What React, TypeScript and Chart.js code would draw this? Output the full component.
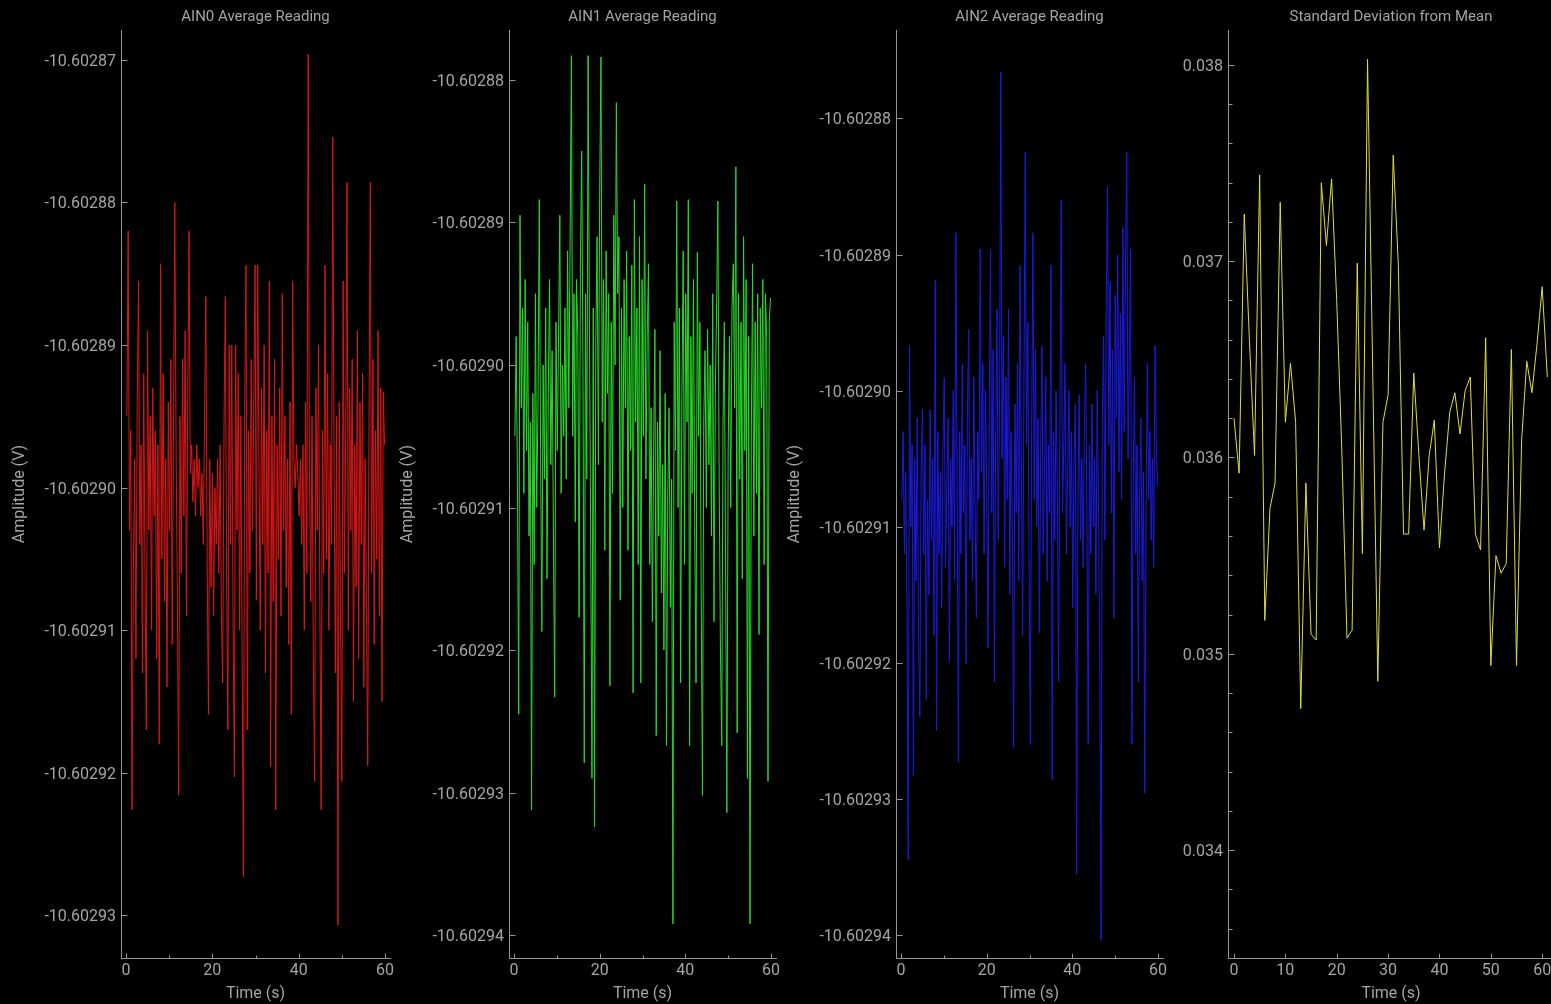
import React, { useEffect, useRef } from "react";
import { Chart, registerables } from "chart.js";

Chart.register(...registerables);

// ---------------- data ----------------
// AIN0/AIN1/AIN2 sampled every 0.3 s starting at 0.2 s
const SAMPLE_T0 = 0.2;
const SAMPLE_DT = 0.3;

const AIN0_VALUES = [
  -10.602895, -10.602882, -10.602903, -10.602896, -10.6029226, -10.602906, -10.602898, -10.602912, -10.602894, -10.6028855,
  -10.602904, -10.602897, -10.602913, -10.602892, -10.602906, -10.602917, -10.602889, -10.602903, -10.602895, -10.60291,
  -10.602893, -10.602902, -10.602896, -10.602912, -10.602897, -10.602918, -10.6028843, -10.602905, -10.602892, -10.602908,
  -10.602898, -10.602914, -10.602894, -10.602903, -10.602891, -10.602911, -10.602896, -10.60288, -10.602897, -10.602908,
  -10.6029216, -10.602895, -10.602906, -10.602891, -10.602902, -10.602889, -10.602909, -10.602894, -10.602882, -10.602899,
  -10.602897, -10.602901, -10.602898, -10.602902, -10.602897, -10.6029, -10.602898, -10.602902, -10.602899, -10.602904,
  -10.602895, -10.6028866, -10.602905, -10.6029159, -10.602898, -10.602907, -10.602899, -10.602909, -10.6029, -10.602904,
  -10.602898, -10.602906, -10.602897, -10.602909, -10.6029137, -10.602896, -10.6028866, -10.602906, -10.602917, -10.60289,
  -10.602904, -10.60289, -10.602909, -10.6029203, -10.60289, -10.602903, -10.602892, -10.60291, -10.602895, -10.602912,
  -10.6029273, -10.602894, -10.6028844, -10.602917, -10.602896, -10.602906, -10.602891, -10.602903, -10.602894, -10.6028844,
  -10.6029079, -10.6028844, -10.602898, -10.60291, -10.602893, -10.602904, -10.60289, -10.602913, -10.602896, -10.602906,
  -10.6028855, -10.6029196, -10.602895, -10.602908, -10.602891, -10.6029226, -10.602897, -10.602905, -10.602893, -10.602909,
  -10.6028864, -10.602903, -10.602895, -10.602907, -10.602898, -10.602911, -10.602894, -10.6029159, -10.6028855, -10.602898,
  -10.6029, -10.602897, -10.602899, -10.602902, -10.602898, -10.602904, -10.602897, -10.60291, -10.602894, -10.602906,
  -10.6028696, -10.602899, -10.602908, -10.602895, -10.602912, -10.6029206, -10.602893, -10.602903, -10.60289, -10.602908,
  -10.6029226, -10.602896, -10.602906, -10.6028844, -10.602905, -10.602892, -10.60291, -10.602897, -10.602904, -10.6028754,
  -10.602898, -10.602913, -10.602895, -10.6029307, -10.602894, -10.602909, -10.6029206, -10.6028855, -10.602906, -10.602896,
  -10.6028786, -10.60291, -10.602893, -10.602903, -10.602891, -10.602915, -10.602897, -10.602907, -10.602889, -10.602912,
  -10.602894, -10.602904, -10.602892, -10.602914, -10.602898, -10.602908, -10.6029195, -10.602895, -10.6028786, -10.602906,
  -10.602891, -10.602911, -10.602896, -10.602905, -10.602889, -10.602909, -10.602893, -10.602915, -10.6028933, -10.602897,
];

const AIN1_VALUES = [
  -10.602905, -10.602898, -10.602908, -10.6029245, -10.6028895, -10.602903, -10.602896, -10.602909, -10.602894, -10.602906,
  -10.602897, -10.602912, -10.602904, -10.6029312, -10.602902, -10.602914, -10.602895, -10.60291, -10.602903, -10.6028884,
  -10.602906, -10.6029187, -10.6029, -10.602908, -10.602896, -10.602915, -10.602902, -10.602894, -10.602907, -10.602899,
  -10.602912, -10.6029233, -10.602897, -10.602906, -10.602898, -10.6028895, -10.602909, -10.6029, -10.602905, -10.602896,
  -10.602908, -10.602892, -10.602903, -10.602891, -10.6028783, -10.602905, -10.602895, -10.602911, -10.602894, -10.602898,
  -10.6029177, -10.602893, -10.602885, -10.6029, -10.6029279, -10.602895, -10.602908, -10.6028783, -10.602897, -10.602912,
  -10.602929, -10.602896, -10.6029324, -10.602898, -10.602891, -10.602907, -10.602888, -10.6028784, -10.602904, -10.602894,
  -10.602913, -10.602892, -10.602902, -10.602895, -10.6029225, -10.602897, -10.602909, -10.6028895, -10.6029, -10.6028816,
  -10.602895, -10.602891, -10.6029165, -10.602896, -10.60291, -10.602894, -10.602903, -10.602892, -10.602913, -10.602898,
  -10.602906, -10.602893, -10.602923, -10.6028884, -10.602904, -10.602896, -10.602914, -10.602891, -10.6029223, -10.602894,
  -10.602905, -10.6028873, -10.602908, -10.602898, -10.6028929, -10.602914, -10.602903, -10.602918, -10.602906, -10.6028975,
  -10.602926, -10.602904, -10.602912, -10.602899, -10.602916, -10.602907, -10.60292, -10.602902, -10.6029267, -10.602909,
  -10.602903, -10.602917, -10.602908, -10.6029392, -10.602897, -10.602906, -10.6028885, -10.60291, -10.602896, -10.6029223,
  -10.602902, -10.602892, -10.602914, -10.602895, -10.602904, -10.6028884, -10.6029267, -10.602898, -10.602909, -10.602894,
  -10.602912, -10.6029223, -10.6028921, -10.602905, -10.602897, -10.602916, -10.6029302, -10.602904, -10.602899, -10.60291,
  -10.6028975, -10.602907, -10.6029, -10.602912, -10.602895, -10.602918, -10.602902, -10.602896, -10.6028885, -10.602908,
  -10.60292, -10.6029267, -10.602904, -10.602897, -10.602914, -10.6029314, -10.602906, -10.602898, -10.60291, -10.602896,
  -10.6028929, -10.602903, -10.6028861, -10.6029258, -10.602895, -10.602908, -10.602897, -10.602915, -10.602891, -10.602906,
  -10.602894, -10.602929, -10.602898, -10.6029392, -10.602905, -10.6028929, -10.602912, -10.602897, -10.602909, -10.602895,
  -10.6029189, -10.602896, -10.602903, -10.602894, -10.602914, -10.602895, -10.602898, -10.6029292, -10.602897, -10.6028953,
];

const AIN2_VALUES = [
  -10.602908, -10.602903, -10.602912, -10.602906, -10.602916, -10.6029345, -10.6028967, -10.60291, -10.602904, -10.6029283,
  -10.602905, -10.602914, -10.602902, -10.602918, -10.602924, -10.602906, -10.6029014, -10.602912, -10.602904, -10.6029227,
  -10.602908, -10.602915, -10.6029014, -10.602911, -10.602905, -10.602918, -10.6028919, -10.602925, -10.602903, -10.602912,
  -10.602906, -10.602916, -10.602904, -10.602899, -10.602913, -10.602907, -10.602902, -10.60292, -10.602905, -10.60291,
  -10.6029, -10.602914, -10.6028884, -10.602906, -10.6029273, -10.602903, -10.602912, -10.602898, -10.602909, -10.602904,
  -10.6029201, -10.602902, -10.6028955, -10.602911, -10.602905, -10.602914, -10.602899, -10.602909, -10.6029167, -10.602903,
  -10.602908, -10.6028896, -10.602906, -10.602898, -10.602912, -10.6029, -10.602907, -10.6029189, -10.602902, -10.6028896,
  -10.602909, -10.602897, -10.6029214, -10.602904, -10.602894, -10.602911, -10.602902, -10.6028766, -10.602905, -10.602896,
  -10.602913, -10.602899, -10.602908, -10.602894, -10.602915, -10.602903, -10.60291, -10.6029262, -10.602901, -10.602909,
  -10.602898, -10.602914, -10.6028908, -10.602906, -10.602918, -10.6029, -10.6028825, -10.602904, -10.602895, -10.602912,
  -10.602926, -10.602903, -10.6028884, -10.602908, -10.602897, -10.60291, -10.602902, -10.6029178, -10.602905, -10.6028967,
  -10.602912, -10.602906, -10.602899, -10.602914, -10.602904, -10.602909, -10.6028908, -10.6029286, -10.602903, -10.602911,
  -10.6029, -10.602907, -10.6029214, -10.602902, -10.602886, -10.602909, -10.602904, -10.602898, -10.602912, -10.602906,
  -10.6029, -10.60291, -10.602903, -10.602916, -10.602905, -10.602901, -10.6029355, -10.602908, -10.6029003, -10.602911,
  -10.602905, -10.602913, -10.602903, -10.602898, -10.602909, -10.602926, -10.602904, -10.602912, -10.602901, -10.60291,
  -10.602905, -10.602915, -10.6029, -10.602908, -10.60292, -10.6029404, -10.602902, -10.602896, -10.602911, -10.602894,
  -10.602885, -10.602904, -10.602892, -10.602909, -10.602897, -10.6029167, -10.602893, -10.602902, -10.60289, -10.602906,
  -10.6028943, -10.602908, -10.602888, -10.602903, -10.602891, -10.6028825, -10.602905, -10.602898, -10.6028896, -10.602926,
  -10.602907, -10.602899, -10.602912, -10.602904, -10.6029214, -10.602908, -10.602902, -10.602914, -10.602906, -10.6029296,
  -10.602909, -10.602898, -10.602908, -10.602903, -10.602911, -10.602905, -10.602913, -10.6028967, -10.602904, -10.602907,
];

// standard deviation, one value per second starting at 0 s
const STD_VALUES = [
  0.0362, 0.03592, 0.03724, 0.0366, 0.03601, 0.03744, 0.03517, 0.03574, 0.03587, 0.0373,
  0.03618, 0.03648, 0.03618, 0.03472, 0.03587, 0.0351, 0.03507, 0.0374, 0.03708, 0.03742,
  0.0368, 0.03603, 0.03508, 0.03512, 0.03699, 0.03551, 0.03803, 0.03645, 0.03486, 0.03618,
  0.03632, 0.03754, 0.03698, 0.03561, 0.03561, 0.03643, 0.03601, 0.03563, 0.03601, 0.03619,
  0.03554, 0.03592, 0.03623, 0.03633, 0.03612, 0.03634, 0.03641, 0.03561, 0.03553, 0.03661,
  0.03494, 0.0355, 0.03541, 0.03546, 0.03655, 0.03494, 0.03609, 0.03649, 0.03633, 0.03658,
  0.03687, 0.03641,
];

const TIME_TICKS_20 = [0, 20, 40, 60];
const TIME_MINOR_20 = [10, 30, 50];
const TIME_TICKS_10 = [0, 10, 20, 30, 40, 50, 60];
const AIN0_Y_TICKS = [-10.60293, -10.60292, -10.60291, -10.6029, -10.60289, -10.60288, -10.60287];
const AIN12_Y_TICKS = [-10.60294, -10.60293, -10.60292, -10.60291, -10.6029, -10.60289, -10.60288];
const STD_Y_TICKS = [0.034, 0.035, 0.036, 0.037, 0.038];
const STD_Y_MINOR = [
  0.0336, 0.0338, 0.0342, 0.0344, 0.0346, 0.0348, 0.0352, 0.0354, 0.0356, 0.0358,
  0.0362, 0.0364, 0.0366, 0.0368, 0.0372, 0.0374, 0.0376, 0.0378,
];

// ---------------- styling ----------------
const FONT_FAMILY = "Roboto, 'Noto Sans', 'DejaVu Sans', sans-serif";
const TEXT_COLOR = "#a4a4a4";
const AXIS_COLOR = "#959595";
const PAGE_W = 1551;
const PAGE_H = 1004;

type Panel = {
  title: string;
  yTitle: string | null;
  color: string;
  values: number[];
  t0: number;
  dt: number;
  xMin: number;
  xMax: number;
  yMin: number;
  yMax: number;
  xTicks: number[];
  xMinor: number[];
  yTicks: number[];
  yMinor: number[];
  decimals: number;
  left: number;
  width: number;
  axisWidth: number;
  padRight: number;
  yTitlePad: number;
};

const PANELS: Panel[] = [
  {
    title: "AIN0 Average Reading", yTitle: "Amplitude (V)", color: "rgb(218,22,22)",
    values: AIN0_VALUES, t0: SAMPLE_T0, dt: SAMPLE_DT,
    xMin: -1.16, xMax: 61.16, yMin: -10.602933, yMax: -10.6028679,
    xTicks: TIME_TICKS_20, xMinor: TIME_MINOR_20, yTicks: AIN0_Y_TICKS, yMinor: [], decimals: 5,
    left: 0, width: 400, axisWidth: 121, padRight: 10, yTitlePad: 10.5,
  },
  {
    title: "AIN1 Average Reading", yTitle: "Amplitude (V)", color: "rgb(38,220,38)",
    values: AIN1_VALUES, t0: SAMPLE_T0, dt: SAMPLE_DT,
    xMin: -1.17, xMax: 61.17, yMin: -10.6029416, yMax: -10.6028765,
    xTicks: TIME_TICKS_20, xMinor: TIME_MINOR_20, yTicks: AIN12_Y_TICKS, yMinor: [], decimals: 5,
    left: 390, width: 396, axisWidth: 119, padRight: 10, yTitlePad: 8.5,
  },
  {
    title: "AIN2 Average Reading", yTitle: "Amplitude (V)", color: "rgb(26,26,224)",
    values: AIN2_VALUES, t0: SAMPLE_T0, dt: SAMPLE_DT,
    xMin: -1.16, xMax: 61.16, yMin: -10.6029417, yMax: -10.6028735,
    xTicks: TIME_TICKS_20, xMinor: TIME_MINOR_20, yTicks: AIN12_Y_TICKS, yMinor: [], decimals: 5,
    left: 776, width: 397, axisWidth: 120, padRight: 10, yTitlePad: 9.5,
  },
  {
    title: "Standard Deviation from Mean", yTitle: null, color: "rgb(222,222,60)",
    values: STD_VALUES, t0: 0, dt: 1,
    xMin: -1.165, xMax: 62.3, yMin: 0.03345, yMax: 0.038178,
    xTicks: TIME_TICKS_10, xMinor: [], yTicks: STD_Y_TICKS, yMinor: STD_Y_MINOR, decimals: 3,
    left: 1163, width: 420, axisWidth: 65, padRight: 29, yTitlePad: 0,
  },
];

function PanelChart({ p }: { p: Panel }) {
  const ref = useRef<HTMLCanvasElement | null>(null);
  useEffect(() => {
    const canvas = ref.current;
    if (!canvas) return;
    const font = { family: FONT_FAMILY, size: 16 };
    const decor = {
      id: "decor",
      afterDraw(chart: any) {
        const { ctx, chartArea } = chart;
        const { left, right, bottom } = chartArea;
        const xs = chart.scales.x;
        const ys = chart.scales.y;
        ctx.save();
        ctx.fillStyle = TEXT_COLOR;
        ctx.font = `15px ${FONT_FAMILY}`;
        ctx.textAlign = "center";
        ctx.textBaseline = "middle";
        ctx.fillText(p.title, (left + right) / 2, 17.5);
        ctx.strokeStyle = AXIS_COLOR;
        ctx.lineWidth = 1;
        ctx.beginPath();
        const lx = Math.round(left) + 0.5;
        const by = Math.round(bottom) + 0.5;
        for (const v of p.yTicks) {
          const y = Math.round(ys.getPixelForValue(v)) + 0.5;
          ctx.moveTo(lx, y);
          ctx.lineTo(lx + 6, y);
        }
        for (const v of p.yMinor) {
          const y = Math.round(ys.getPixelForValue(v)) + 0.5;
          ctx.moveTo(lx, y);
          ctx.lineTo(lx + 4, y);
        }
        for (const v of p.xTicks) {
          const x = Math.round(xs.getPixelForValue(v)) + 0.5;
          ctx.moveTo(x, by);
          ctx.lineTo(x, by - 5);
        }
        for (const v of p.xMinor) {
          const x = Math.round(xs.getPixelForValue(v)) + 0.5;
          ctx.moveTo(x, by);
          ctx.lineTo(x, by - 3);
        }
        ctx.stroke();
        ctx.restore();
      },
    };
    const chart = new Chart(canvas, {
      type: "line",
      data: {
        datasets: [
          {
            data: p.values.map((v, i) => ({ x: p.t0 + i * p.dt, y: v })),
            borderColor: p.color,
            borderWidth: 1,
            pointRadius: 0,
            tension: 0,
            fill: false,
            borderJoinStyle: "round",
          },
        ],
      },
      options: {
        responsive: false,
        animation: false,
        layout: { padding: { top: 30, right: p.padRight, bottom: 0, left: 0 } },
        plugins: { legend: { display: false }, tooltip: { enabled: false }, title: { display: false } },
        scales: {
          x: {
            type: "linear",
            min: p.xMin,
            max: p.xMax,
            afterBuildTicks: (s: any) => {
              s.ticks = p.xTicks.map((v) => ({ value: v }));
            },
            afterFit: (s: any) => {
              s.height = 46;
            },
            ticks: {
              color: TEXT_COLOR,
              font,
              padding: 3.5,
              maxRotation: 0,
              autoSkip: false,
              callback: (v: any) => String(v),
            },
            grid: { display: true, drawOnChartArea: false, drawTicks: false },
            border: { display: true, color: AXIS_COLOR, width: 1 },
            title: {
              display: true,
              text: "Time (s)",
              color: TEXT_COLOR,
              font,
              padding: { top: 0, bottom: 0.6 },
            },
          },
          y: {
            type: "linear",
            min: p.yMin,
            max: p.yMax,
            afterBuildTicks: (s: any) => {
              s.ticks = p.yTicks.map((v) => ({ value: v }));
            },
            afterFit: (s: any) => {
              s.width = p.axisWidth;
            },
            ticks: {
              color: TEXT_COLOR,
              font,
              padding: 5,
              labelOffset: 2,
              autoSkip: false,
              callback: (v: any) => Number(v).toFixed(p.decimals),
            },
            grid: { display: true, drawOnChartArea: false, drawTicks: false },
            border: { display: true, color: AXIS_COLOR, width: 1 },
            title: {
              display: !!p.yTitle,
              text: p.yTitle || "",
              color: TEXT_COLOR,
              font,
              padding: { top: p.yTitlePad, bottom: 0 },
            },
          },
        },
      },
      plugins: [decor],
    } as any);
    return () => chart.destroy();
  }, [p]);
  return (
    <canvas
      ref={ref}
      width={p.width}
      height={PAGE_H}
      style={{ position: "absolute", left: p.left, top: 0, width: p.width, height: PAGE_H }}
    />
  );
}

export default function App() {
  useEffect(() => {
    document.body.style.margin = "0";
    document.body.style.background = "#000";
    document.documentElement.style.overflow = "hidden";
    document.body.style.overflow = "hidden";
  }, []);
  return (
    <div
      style={{
        position: "relative",
        width: PAGE_W,
        height: PAGE_H,
        overflow: "hidden",
        background: "#000",
      }}
    >
      {PANELS.map((p) => (
        <PanelChart key={p.title} p={p} />
      ))}
    </div>
  );
}
